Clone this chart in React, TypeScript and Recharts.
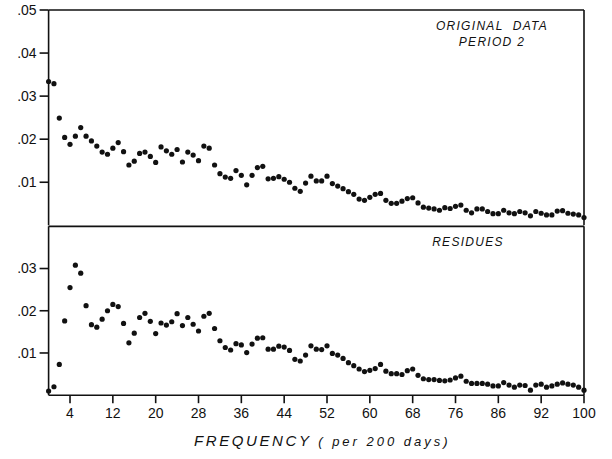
import { ScatterChart, Scatter, XAxis, YAxis } from 'recharts'

// frequency (per 200 days)
const freqs = [
  0, 1, 2, 3, 4, 5, 6, 7, 8, 9, 10, 11, 12, 13, 14, 15, 16, 17, 18, 19, 20,
  21, 22, 23, 24, 25, 26, 27, 28, 29, 30, 31, 32, 33, 34, 35, 36, 37, 38, 39, 40,
  41, 42, 43, 44, 45, 46, 47, 48, 49, 50, 51, 52, 53, 54, 55, 56, 57, 58, 59, 60,
  61, 62, 63, 64, 65, 66, 67, 68, 69, 70, 71, 72, 73, 74, 75, 76, 77, 78, 79, 80,
  81, 82, 83, 84, 85, 86, 87, 88, 89, 90, 91, 92, 93, 94, 95, 96, 97, 98, 99, 100,
]

// original data, period 2
const original = [
  0.0334, 0.0329, 0.0249, 0.0204, 0.0188, 0.0207, 0.0227, 0.0207, 0.0196, 0.0184, 0.0170,
  0.0165, 0.0179, 0.0192, 0.0171, 0.0140, 0.0149, 0.0167, 0.0170, 0.0160, 0.0146,
  0.0182, 0.0173, 0.0165, 0.0176, 0.0147, 0.0170, 0.0163, 0.0150, 0.0184, 0.0179,
  0.0140, 0.0120, 0.0112, 0.0109, 0.0127, 0.0116, 0.0094, 0.0116, 0.0134, 0.0137,
  0.0108, 0.0109, 0.0113, 0.0107, 0.0100, 0.0086, 0.0079, 0.0098, 0.0114, 0.0103,
  0.0103, 0.0114, 0.0097, 0.0091, 0.0085, 0.0078, 0.0072, 0.0061, 0.0058, 0.0065,
  0.0072, 0.0074, 0.0058, 0.0051, 0.0051, 0.0056, 0.0062, 0.0064, 0.0052, 0.0042,
  0.0040, 0.0038, 0.0035, 0.0041, 0.0039, 0.0044, 0.0047, 0.0035, 0.0029, 0.0038,
  0.0038, 0.0032, 0.0027, 0.0027, 0.0035, 0.0029, 0.0027, 0.0032, 0.0029, 0.0022,
  0.0032, 0.0028, 0.0024, 0.0024, 0.0033, 0.0034, 0.0028, 0.0026, 0.0024, 0.0018,
]

const residues = [
  0.0010, 0.0020, 0.0073, 0.0176, 0.0255, 0.0308, 0.0289, 0.0212, 0.0167, 0.0161, 0.0180,
  0.0200, 0.0215, 0.0210, 0.0170, 0.0124, 0.0147, 0.0184, 0.0194, 0.0175, 0.0146,
  0.0171, 0.0166, 0.0174, 0.0193, 0.0165, 0.0184, 0.0168, 0.0152, 0.0187, 0.0194,
  0.0158, 0.0129, 0.0113, 0.0107, 0.0122, 0.0119, 0.0101, 0.0121, 0.0135, 0.0136,
  0.0109, 0.0109, 0.0116, 0.0114, 0.0106, 0.0085, 0.0081, 0.0095, 0.0117, 0.0109,
  0.0108, 0.0117, 0.0099, 0.0095, 0.0087, 0.0077, 0.0070, 0.0062, 0.0056, 0.0059,
  0.0063, 0.0073, 0.0057, 0.0051, 0.0051, 0.0049, 0.0058, 0.0062, 0.0047, 0.0039,
  0.0037, 0.0037, 0.0035, 0.0034, 0.0036, 0.0041, 0.0045, 0.0033, 0.0028, 0.0028,
  0.0028, 0.0026, 0.0022, 0.0022, 0.0030, 0.0024, 0.0019, 0.0024, 0.0023, 0.0012,
  0.0024, 0.0026, 0.0019, 0.0022, 0.0026, 0.0029, 0.0026, 0.0024, 0.0019, 0.0012,
]

const xTicks = [4, 12, 20, 28, 36, 44, 52, 60, 68, 76, 84, 92, 100]
// the printed axis reads "86" at the 84 position
const xTickLabels: Record<number, string> = { 84: '86' }
const topTicks = [0.01, 0.02, 0.03, 0.04, 0.05]
const bottomTicks = [0.01, 0.02, 0.03]

const font = 'Liberation Sans, Arial, Helvetica, sans-serif'
const ink = '#111'

const topData = freqs.map((f, i) => ({ f, v: original[i] }))
const bottomData = freqs.map((f, i) => ({ f, v: residues[i] }))

const fmtY = (v: number) => v.toFixed(2).replace(/^0/, '')
const Dot = (p: any) => <circle cx={p.cx} cy={p.cy} r={2.6} fill={ink} />

const tickText = { fill: ink, fontSize: 14, fontFamily: font }

export default function App() {
  return (
    <div style={{ position: 'absolute', left: 0, top: 0, width: 612, height: 459, background: '#fff', fontFamily: font }}>
      <div style={{ position: 'absolute', left: 0, top: 0 }}>
        <ScatterChart width={612} height={226} margin={{ top: 9, right: 27, left: 0, bottom: 0.7 }}>
          <XAxis dataKey="f" type="number" domain={[0, 100]} hide />
          <XAxis xAxisId="t" orientation="top" type="number" domain={[0, 100]} height={1} tick={false} tickLine={false}
            stroke={ink} strokeWidth={1.6} />
          <YAxis dataKey="v" type="number" domain={[0, 0.05]} ticks={topTicks} tickFormatter={fmtY} width={48.6}
            tick={tickText} tickSize={9} tickMargin={3} stroke={ink} strokeWidth={1.6} />
          <YAxis yAxisId="r" orientation="right" type="number" domain={[0, 0.05]} width={1} tick={false} tickLine={false}
            stroke={ink} strokeWidth={1.6} />
          <Scatter data={topData} shape={Dot} isAnimationActive={false} />
        </ScatterChart>
      </div>
      <div style={{ position: 'absolute', left: 0, top: 215 }}>
        <ScatterChart width={612} height={244} margin={{ top: 10.3, right: 27, left: 0, bottom: 0 }}>
          <XAxis dataKey="f" type="number" domain={[0, 100]} ticks={xTicks} height={63.8}
            tickFormatter={(v: number) => xTickLabels[v] ?? String(v)}
            tick={tickText} tickSize={8} tickMargin={5} stroke={ink} strokeWidth={1.6} />
          <XAxis xAxisId="t" orientation="top" type="number" domain={[0, 100]} height={1} tick={false} tickLine={false}
            stroke={ink} strokeWidth={1.8} />
          <YAxis dataKey="v" type="number" domain={[0, 0.04]} ticks={bottomTicks} tickFormatter={fmtY} width={48.6}
            tick={tickText} tickSize={9} tickMargin={3} stroke={ink} strokeWidth={1.6} />
          <YAxis yAxisId="r" orientation="right" type="number" domain={[0, 0.04]} width={1} tick={false} tickLine={false}
            stroke={ink} strokeWidth={1.6} />
          <Scatter data={bottomData} shape={Dot} isAnimationActive={false} />
        </ScatterChart>
      </div>

      <div style={{ position: 'absolute', left: 412, width: 160, top: 18, textAlign: 'center', fontStyle: 'italic', fontSize: 12, letterSpacing: 1.3, lineHeight: '16px', color: ink, whiteSpace: 'pre' }}>
        {'ORIGINAL  DATA\nPERIOD 2'}
      </div>
      <div style={{ position: 'absolute', left: 408, width: 120, top: 235, textAlign: 'center', fontStyle: 'italic', fontSize: 12, letterSpacing: 1.3, color: ink }}>
        RESIDUES
      </div>
      <div style={{ position: 'absolute', left: 194, top: 432, fontStyle: 'italic', color: ink, whiteSpace: 'pre' }}>
        <span style={{ fontSize: 15, letterSpacing: 2.6 }}>FREQUENCY</span>
        <span style={{ fontSize: 13, letterSpacing: 3 }}>{' ( per 200 days)'}</span>
      </div>
    </div>
  )
}
